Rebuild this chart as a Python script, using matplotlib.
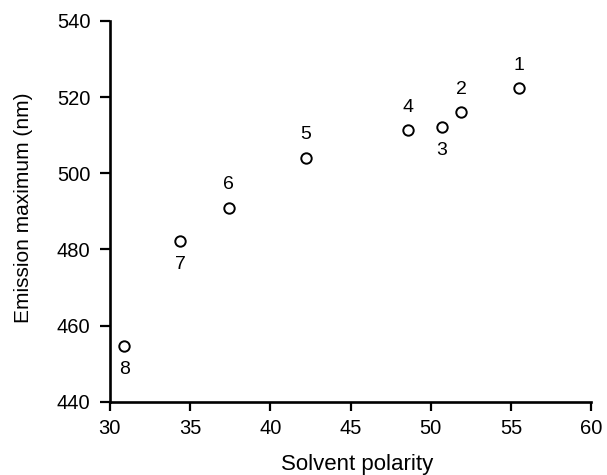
import matplotlib
matplotlib.use("Agg")
import matplotlib.pyplot as plt

# solvent data
labels = ["1", "2", "3", "4", "5", "6", "7", "8"]
polarity = [55.5, 51.9, 50.7, 48.6, 42.2, 37.4, 34.4, 30.9]
emission = [522.4, 516.0, 512.2, 511.3, 504.1, 491.0, 482.3, 454.6]
label_below = [False, False, True, False, False, False, True, True]

plt.rcParams['font.family'] = ['Liberation Sans', 'DejaVu Sans']

fig = plt.figure(figsize=(6.07, 4.75), dpi=100)
ax = fig.add_axes([0.181, 0.154, 0.793, 0.802])

ax.plot(polarity, emission, linestyle='none', marker='o', markersize=7.5,
        markerfacecolor='white', markeredgecolor='black', markeredgewidth=1.4,
        clip_on=False)

for lab, x, y, below in zip(labels, polarity, emission, label_below):
    dy = -17 if below else 16.5
    ax.annotate(lab, xy=(x, y), xytext=(0, dy), textcoords='offset points',
                ha='center', va='center', fontsize=14)

ax.set_xlim(30, 60)
ax.set_ylim(440, 540)
ax.set_xticks([30, 35, 40, 45, 50, 55, 60])
ax.set_yticks([440, 460, 480, 500, 520, 540])

for side in ['top', 'right']:
    ax.spines[side].set_visible(False)
for side in ['left', 'bottom']:
    ax.spines[side].set_linewidth(1.9)

ax.tick_params(axis='y', direction='out', length=7, width=1.6, labelsize=14.5, pad=7)
ax.tick_params(axis='x', direction='out', length=6.5, width=1.6, labelsize=14.5, pad=6)

# axis titles placed where the reference has them (axes fraction)
ax.set_xlabel("Solvent polarity", fontsize=16)
ax.set_ylabel("Emission maximum (nm)", fontsize=15)
ax.xaxis.set_label_coords((357 - 110) / 481, -(454 - 402) / 381)
ax.yaxis.set_label_coords(-(110 - 33) / 481, (402 - 208) / 381)

fig.savefig("out.png", dpi=100)
